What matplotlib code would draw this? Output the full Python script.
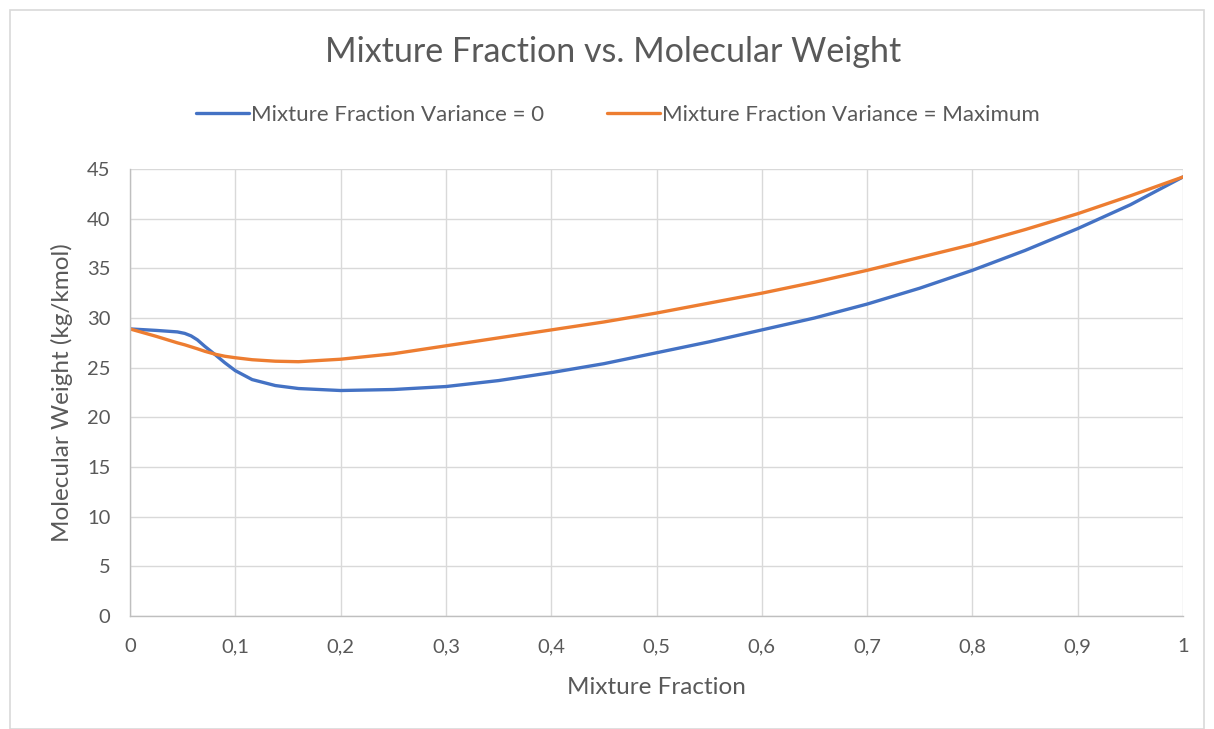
import matplotlib
matplotlib.use('Agg')
import matplotlib.pyplot as plt
import matplotlib.ticker as mtick
from matplotlib.patches import Rectangle

# mixture fraction (x) and molecular weight (kg/kmol)
mix_frac = [0, 0.025, 0.045, 0.052, 0.058, 0.064, 0.071, 0.081, 0.09, 0.1, 0.116, 0.138, 0.16, 0.2, 0.25,
            0.3, 0.35, 0.4, 0.45, 0.5, 0.55, 0.6, 0.65, 0.7, 0.75, 0.8, 0.85, 0.9, 0.95, 1.0]
mw_var0 = [28.9, 28.75, 28.6, 28.45, 28.2, 27.8, 27.15, 26.3, 25.5, 24.7, 23.8, 23.2, 22.9, 22.7, 22.8,
           23.1, 23.7, 24.5, 25.4, 26.5, 27.6, 28.8, 30.0, 31.4, 33.0, 34.8, 36.8, 39.0, 41.4, 44.2]
mw_varmax = [28.9, 28.15, 27.5, 27.3, 27.1, 26.9, 26.65, 26.35, 26.15, 26.0, 25.8, 25.65, 25.6, 25.85, 26.4,
             27.2, 28.0, 28.8, 29.6, 30.5, 31.5, 32.5, 33.6, 34.8, 36.1, 37.4, 38.9, 40.5, 42.3, 44.2]

labels = ['Mixture Fraction Variance = 0', 'Mixture Fraction Variance = Maximum']
x_ticks = [0, 0.1, 0.2, 0.3, 0.4, 0.5, 0.6, 0.7, 0.8, 0.9, 1.0]
y_ticks = [0, 5, 10, 15, 20, 25, 30, 35, 40, 45]

plt.rcParams['font.family'] = ['Lato', 'DejaVu Sans']
txt = '#595959'

W, H = 1214, 729
fig = plt.figure(figsize=(W / 100, H / 100), dpi=100)
# plot area in pixels: left 130, right 1183, top 169, bottom 616
ax = fig.add_axes([130 / W, 1 - 616 / H, (1183 - 130) / W, (616 - 169) / H])

# chart border like excel
fig.patches.append(Rectangle((10 / W, 0.0), 1194 / W, 1 - 10 / H, transform=fig.transFigure,
                             fill=False, ec='#d9d9d9', lw=1.2))

l1, = ax.plot(mix_frac, mw_var0, color='#4472C4', lw=2.4, solid_capstyle='round')
l2, = ax.plot(mix_frac, mw_varmax, color='#ED7D31', lw=2.4, solid_capstyle='round')

ax.set_xlim(0, 1)
ax.set_ylim(0, 45)
ax.set_xticks(x_ticks)
ax.set_yticks(y_ticks)
ax.xaxis.set_major_formatter(mtick.FuncFormatter(lambda v, p: ('%g' % v).replace('.', ',')))
ax.grid(True, color='#d9d9d9', lw=1.0)
ax.set_axisbelow(True)
for s in ['top', 'right']:
    ax.spines[s].set_visible(False)
for s in ['left', 'bottom']:
    ax.spines[s].set_color('#bfbfbf')
    ax.spines[s].set_linewidth(1.0)
ax.tick_params(length=0, colors=txt, labelsize=14.5)
ax.tick_params(axis='x', pad=16)
ax.tick_params(axis='y', pad=14)

ax.set_xlabel('Mixture Fraction', fontsize=17.5, color=txt, labelpad=16)
ax.set_ylabel('Molecular Weight (kg/kmol)', fontsize=17.5, color=txt, labelpad=10)

fig.text(613 / W, 1 - 52 / H, 'Mixture Fraction vs. Molecular Weight', ha='center', va='center',
         fontsize=24.5, color=txt)

fig.legend([l1, l2], labels, loc='center', bbox_to_anchor=(618 / W, 1 - 115 / H), ncol=2,
           frameon=False, fontsize=16, labelcolor=txt, handlelength=2.4, handletextpad=0.1,
           columnspacing=2.8)

fig.savefig('out.png', dpi=100)
